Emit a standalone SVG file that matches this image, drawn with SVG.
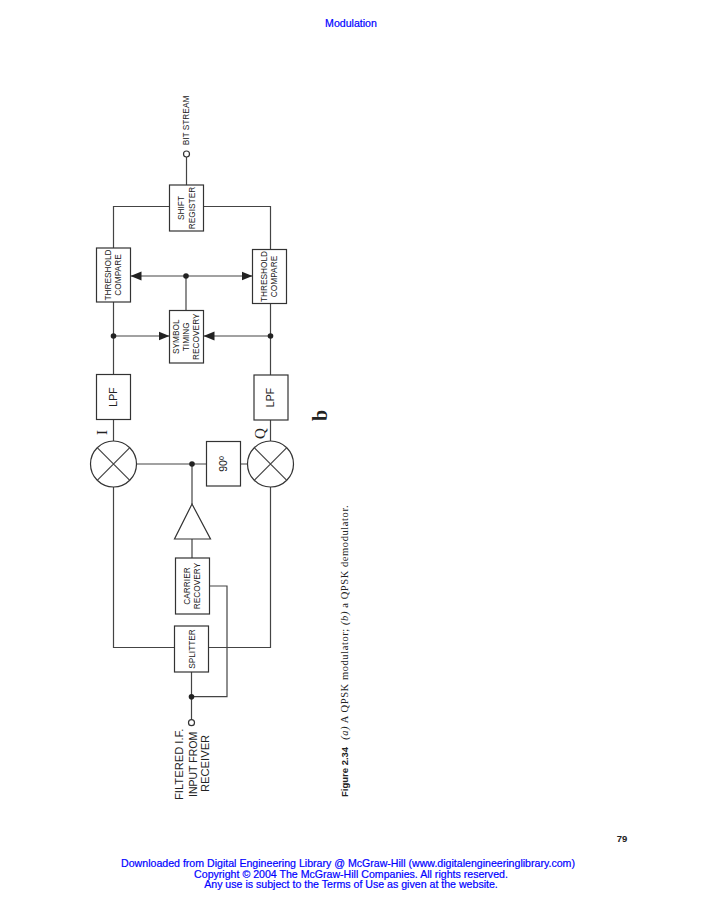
<svg xmlns="http://www.w3.org/2000/svg" width="701" height="900" viewBox="0 0 701 900">
<style>
.b{fill:#fff;stroke:#333;stroke-width:1.2}
.w{fill:none;stroke:#444;stroke-width:1.2}
.d{fill:#222}
.t{font-family:"Liberation Sans",Arial,sans-serif;font-size:8.3px;fill:#222;text-anchor:middle}
.hd{font-family:"Liberation Sans",Arial,sans-serif;fill:#0000ff;stroke:#0000ff;stroke-width:.2;text-anchor:middle;font-size:10.6px}
.s{font-family:"Liberation Serif","Times New Roman",serif;fill:#222}
</style>
<defs>
<marker id="a" markerUnits="userSpaceOnUse" markerWidth="12" markerHeight="10" refX="11" refY="5" orient="auto"><path d="M0,0.5L11,5L0,9.5z" fill="#222"/></marker>
</defs>
<rect width="701" height="900" fill="#fff"/>
<g id="connectors">
<path class="w" d="M186.5,157V185M169.5,206.5H113.5V248M203.5,206.5H270.5V249.5"/>
<path class="w" d="M113.5,302V374.5M270.5,303V375M113.5,419.5V441M270.5,420V441"/>
<path class="w" d="M186,310.5V276"/>
<path class="w" marker-end="url(#a)" d="M186,276H130.5"/>
<path class="w" marker-end="url(#a)" d="M186,276H252.5"/>
<path class="w" marker-end="url(#a)" d="M113.5,336H169.5"/>
<path class="w" marker-end="url(#a)" d="M270.5,336H203.5"/>
<path class="w" d="M136.5,464H206.5M240.5,464H247.5M192,464V504M192,539V558"/>
<path class="w" d="M113.5,487V647.5H174.5M270.5,487V647.5H208.5"/>
<path class="w" d="M209.5,586H227V696.7H191.5M191.5,672V719.7"/>
</g>
<g id="bit-stream"><circle class="b" cx="186.5" cy="154" r="3"/><text class="t" transform="translate(189,120.5) rotate(-90)">BIT STREAM</text></g>
<g id="shift-register"><rect class="b" x="169.5" y="185" width="34" height="46"/><text class="t" transform="translate(183.5,208) rotate(-90)">SHIFT</text><text class="t" transform="translate(194.5,208) rotate(-90)">REGISTER</text></g>
<g id="threshold-i"><rect class="b" x="96.5" y="248" width="34" height="54"/><text class="t" transform="translate(111,275) rotate(-90)">THRESHOLD</text><text class="t" transform="translate(121,275) rotate(-90)">COMPARE</text></g>
<g id="threshold-q"><rect class="b" x="252.5" y="249.5" width="34" height="54"/><text class="t" transform="translate(267,276.5) rotate(-90)">THRESHOLD</text><text class="t" transform="translate(277,276.5) rotate(-90)">COMPARE</text></g>
<g id="symbol-timing"><rect class="b" x="169.5" y="310.5" width="34" height="52.5"/><text class="t" transform="translate(179,336.7) rotate(-90)">SYMBOL</text><text class="t" transform="translate(189,336.7) rotate(-90)">TIMING</text><text class="t" transform="translate(199,336.7) rotate(-90)">RECOVERY</text></g>
<g id="lpf-i"><rect class="b" x="96.5" y="374.5" width="34" height="45"/><text class="t" style="font-size:10.5px" transform="translate(116.5,397) rotate(-90)">LPF</text></g>
<g id="lpf-q"><rect class="b" x="254" y="375" width="34" height="45"/><text class="t" style="font-size:10.5px" transform="translate(273.5,397.5) rotate(-90)">LPF</text></g>
<g id="mixer-i"><circle class="b" cx="113.5" cy="464" r="23"/><path class="w" d="M97.2,447.7L129.8,480.3M129.8,447.7L97.2,480.3"/><text class="s" font-size="15" text-anchor="middle" transform="translate(107,432.5) rotate(-90)">I</text></g>
<g id="mixer-q"><circle class="b" cx="270.5" cy="464" r="23"/><path class="w" d="M254.2,447.7L286.8,480.3M286.8,447.7L254.2,480.3"/><text class="s" font-size="15" text-anchor="middle" transform="translate(265,433.5) rotate(-90)">Q</text></g>
<g id="phase-90"><rect class="b" x="206.5" y="441.5" width="34" height="44.5"/><text class="t" style="font-size:10.5px" transform="translate(227,464) rotate(-90)">90º</text></g>
<g id="amplifier"><path class="b" d="M192,504L210.5,539H174.5z"/></g>
<g id="carrier-recovery"><rect class="b" x="175.5" y="558" width="34" height="56"/><text class="t" transform="translate(189.5,586) rotate(-90)">CARRIER</text><text class="t" transform="translate(200,586) rotate(-90)">RECOVERY</text></g>
<g id="splitter"><rect class="b" x="174.5" y="626" width="34" height="46"/><text class="t" transform="translate(195,649) rotate(-90)">SPLITTER</text></g>
<g id="input"><circle class="b" cx="191.5" cy="722.7" r="3"/><g class="t" style="font-size:11.2px;text-anchor:start"><text transform="translate(183,800) rotate(-90)">FILTERED I.F.</text><text style="font-size:10.5px" transform="translate(196.5,797) rotate(-90)">INPUT FROM</text><text transform="translate(208.5,792) rotate(-90)">RECEIVER</text></g></g>
<g id="junctions"><circle class="d" cx="186" cy="276" r="2.8"/><circle class="d" cx="113.5" cy="336" r="2.8"/><circle class="d" cx="270.5" cy="336" r="2.8"/><circle class="d" cx="192" cy="464" r="2.8"/><circle class="d" cx="191.5" cy="696.7" r="2.8"/></g>
<text class="s" font-size="20" font-weight="bold" text-anchor="middle" transform="translate(327,415.5) rotate(-90)">b</text>
<text transform="translate(348,797) rotate(-90)"><tspan font-family="'Liberation Sans',Arial,sans-serif" font-weight="bold" font-size="9.5" fill="#222">Figure 2.34</tspan><tspan class="s" font-size="10.5" letter-spacing=".58" dx="7"><tspan font-style="italic">(a)</tspan> A QPSK modulator; <tspan font-style="italic">(b)</tspan> a QPSK demodulator.</tspan></text>
<text class="hd" x="351" y="27">Modulation</text>
<text x="622" y="842" text-anchor="middle" font-family="'Liberation Sans',Arial,sans-serif" font-weight="bold" font-size="9.5" fill="#222">79</text>
<text class="hd"><tspan x="348" y="867">Downloaded from Digital Engineering Library @ McGraw-Hill (www.digitalengineeringlibrary.com)</tspan><tspan x="351" y="877.7">Copyright © 2004 The McGraw-Hill Companies. All rights reserved.</tspan><tspan x="351" y="888">Any use is subject to the Terms of Use as given at the website.</tspan></text>
</svg>
